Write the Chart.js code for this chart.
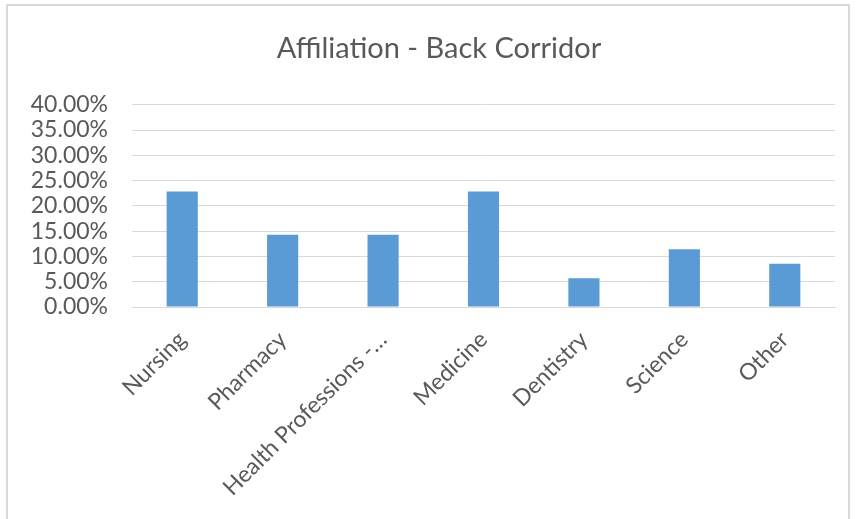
<!DOCTYPE html>
<html>
<head>
<meta charset="utf-8">
<script src="https://cdn.jsdelivr.net/npm/chart.js@4"></script>
<style>
  html, body { margin: 0; padding: 0; background: #fff; }
  #frame {
    position: absolute; left: 6px; top: 4px; width: 844px; height: 530px;
    border: 2px solid #d9d9d9; box-sizing: border-box;
  }
  #wrap { position: absolute; left: 0; top: 0; width: 859px; height: 519px; }
</style>
</head>
<body>
<div id="frame"></div>
<div id="wrap"><canvas id="affChart" width="859" height="519"></canvas></div>
<script>
// categories and shares (fraction of respondents)
var categories = ['Nursing', 'Pharmacy', 'Health Professions -\u2026', 'Medicine', 'Dentistry', 'Science', 'Other'];
var shares = [0.2286, 0.1429, 0.1429, 0.2286, 0.0571, 0.1143, 0.0857];
var yTicks = [0, 0.05, 0.10, 0.15, 0.20, 0.25, 0.30, 0.35, 0.40];

var textColor = '#595959';
var fontFamily = 'Lato, "Open Sans", sans-serif';

// nudge the title box so its centre sits a bit right of the canvas centre
var titleShift = {
  id: 'titleShift',
  afterLayout: function (chart) {
    if (chart.titleBlock) chart.titleBlock.left += 43;
  }
};

var ctx = document.getElementById('affChart').getContext('2d');
new Chart(ctx, {
  type: 'bar',
  data: {
    labels: categories,
    datasets: [{
      data: shares,
      backgroundColor: '#5b9bd5',
      borderWidth: 0,
      categoryPercentage: 1,
      barPercentage: 0.31
    }]
  },
  plugins: [titleShift],
  options: {
    responsive: false,
    animation: false,
    layout: { padding: { left: 0, right: 24, top: 0, bottom: 0 } },
    plugins: {
      legend: { display: false },
      tooltip: { enabled: false },
      title: {
        display: true,
        text: 'Affiliation - Back Corridor',
        color: textColor,
        font: { family: fontFamily, size: 29, weight: 'normal' },
        padding: { top: 31, bottom: 39 }
      }
    },
    scales: {
      x: {
        grid: { display: false },
        border: { color: '#d9d9d9', width: 1 },
        ticks: {
          color: textColor,
          font: { family: fontFamily, size: 23 },
          minRotation: 45,
          maxRotation: 45,
          autoSkip: false,
          padding: 11
        },
        afterFit: function (scale) { scale.height = 519 - 307; }
      },
      y: {
        min: 0,
        max: 0.40,
        afterBuildTicks: function (scale) {
          scale.ticks = yTicks.map(function (v) { return { value: v }; });
        },
        grid: { color: '#d9d9d9', lineWidth: 1, drawTicks: false },
        border: { display: false },
        ticks: {
          color: textColor,
          font: { family: fontFamily, size: 23, lineHeight: 1 },
          autoSkip: false,
          padding: 24,
          callback: function (v) { return (v * 100).toFixed(2) + '%'; }
        },
        afterFit: function (scale) { scale.width = 132; }
      }
    }
  }
});
</script>
</body>
</html>
